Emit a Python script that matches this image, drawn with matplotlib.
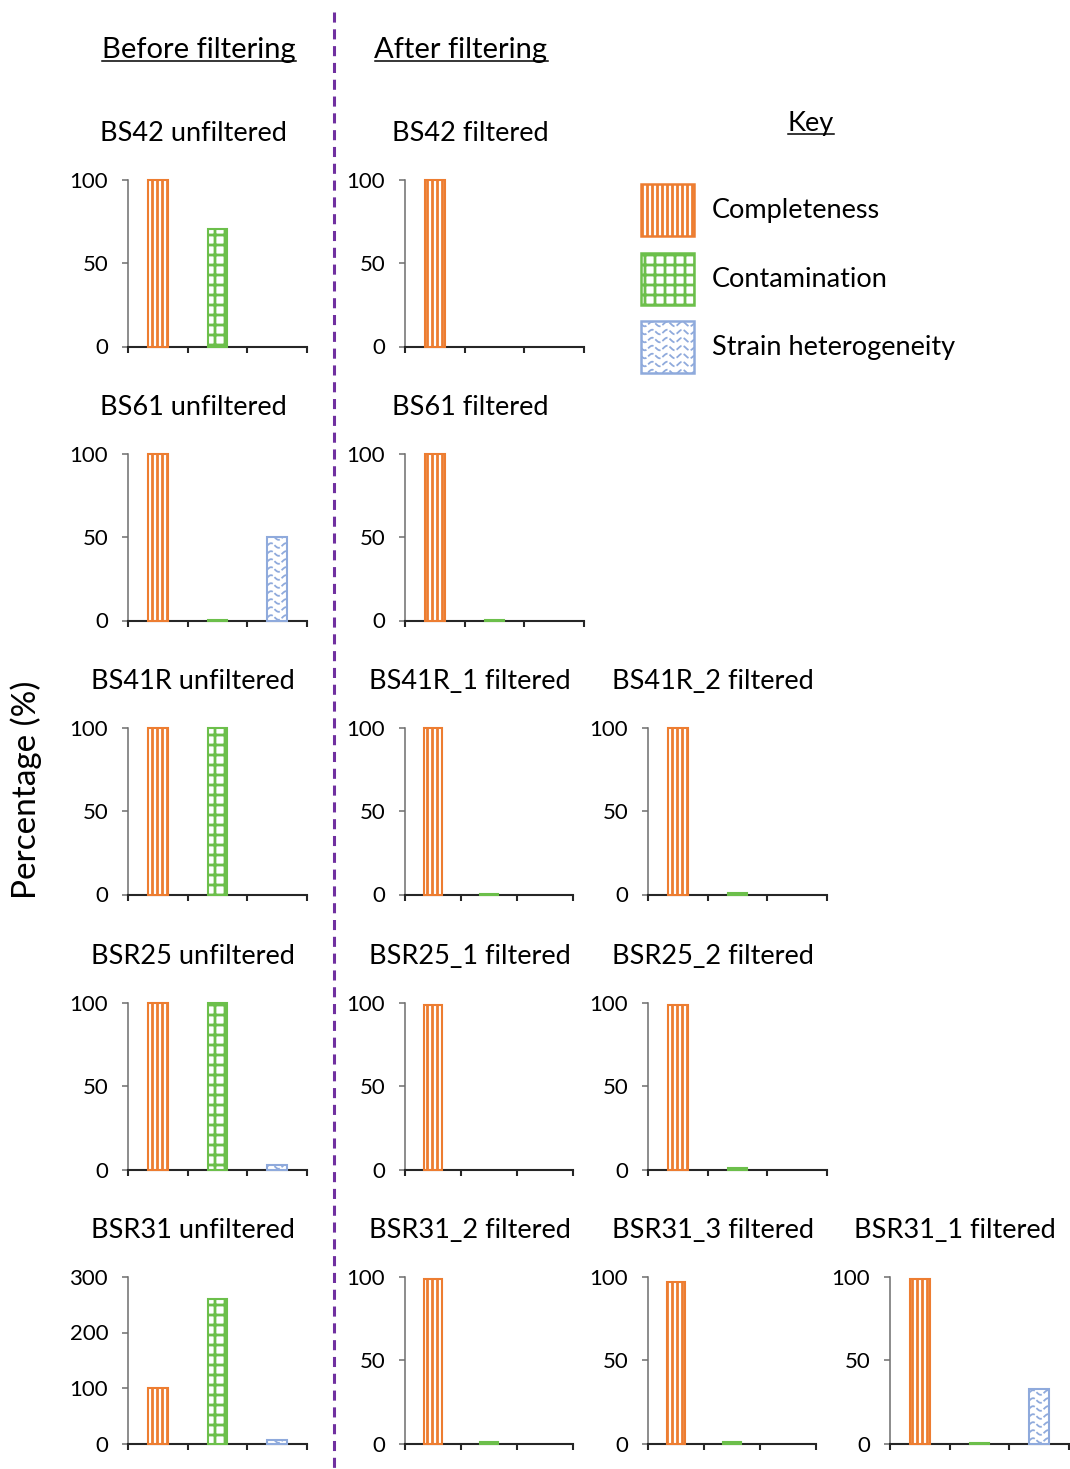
import numpy as np
import matplotlib
matplotlib.use("Agg")
import matplotlib.pyplot as plt
from matplotlib.patches import Rectangle

DPI = 120
S = 100 / DPI  # sizes below are tuned in points at 100 dpi

plt.rcParams['font.family'] = ['Lato', 'DejaVu Sans']
plt.rcParams['hatch.linewidth'] = 2.0 * S

# CheckM results per bin, before and after filtering
titles = ["BS42 unfiltered", "BS42 filtered",
          "BS61 unfiltered", "BS61 filtered",
          "BS41R unfiltered", "BS41R_1 filtered", "BS41R_2 filtered",
          "BSR25 unfiltered", "BSR25_1 filtered", "BSR25_2 filtered",
          "BSR31 unfiltered", "BSR31_2 filtered", "BSR31_3 filtered", "BSR31_1 filtered"]
completeness = [100, 100, 100, 100, 100, 100, 100, 100, 99, 99, 100, 99, 97, 99]
contamination = [70.5, 0, 0.6, 0.6, 100, 0.6, 1, 100, 0, 1, 260, 1.2, 1, 0.6]
strain_het = [0, 0, 50, 0, 0, 0, 0, 3, 0, 0, 7, 0, 0, 33]
y_max = [100, 100, 100, 100, 100, 100, 100, 100, 100, 100, 300, 100, 100, 100]

metrics = ["Completeness", "Contamination", "Strain heterogeneity"]

# grid slot of each panel: (row, column, visible x extent in categories)
slots = [(0, 0, 3), (0, 1, 3),
         (1, 0, 3), (1, 1, 3),
         (2, 0, 3), (2, 1, 2.82), (2, 2, 3),
         (3, 0, 3), (3, 1, 2.82), (3, 2, 3),
         (4, 0, 3), (4, 1, 2.82), (4, 2, 2.82), (4, 3, 3)]

ORANGE = '#ED7D31'
GREEN = '#6CBF4B'
BLUE = '#8FAADC'
PURPLE = '#7030A0'

W, H = 1070, 1469
col_left = [128, 405, 648, 890]
row_top = [180, 454, 728, 1003, 1277]
AX_W, AX_H = 179, 166.5

fig = plt.figure(figsize=(W / DPI, H / DPI), dpi=DPI)

# full-figure layer in pixel units for the divider, headings and key
ov = fig.add_axes([0, 0, 1, 1])
ov.set_xlim(0, W)
ov.set_ylim(H, 0)
ov.axis('off')


def wave_fill(ax, patch, px_x, px_y):
    # wavy dashed rows clipped to the patch
    x0, y0 = patch.get_x(), patch.get_y()
    w, h = patch.get_width(), patch.get_height()
    wp, hp = abs(w * px_x), abs(h * px_y)
    xs = np.linspace(0, wp, 60)
    for yy in np.arange(3, hp + 8, 8):
        ys = yy + 2.3 * np.sin(2 * np.pi * xs / 15)
        ln, = ax.plot(x0 + xs / px_x, y0 + ys / px_y, color=BLUE, lw=1.3 * S,
                      ls=(0, (3.5, 1.2)), solid_capstyle='butt', zorder=5)
        ln.set_clip_path(patch)


for i, title in enumerate(titles):
    row, col, xmax = slots[i]
    left, top = col_left[col], row_top[row]
    w = AX_W * xmax / 3
    ax = fig.add_axes([left / W, 1 - (top + AX_H) / H, w / W, AX_H / H])
    ax.set_xlim(0, xmax)
    ax.set_ylim(0, y_max[i])
    vals = [completeness[i], contamination[i], strain_het[i]]
    bars = ax.bar([0.5, 1.5, 2.5], vals, width=0.33, clip_on=False, zorder=3)
    styles = [(ORANGE, '||||'), (GREEN, '++'), (BLUE, None)]
    for b, v, (c, h) in zip(bars, vals, styles):
        b.set_facecolor('white')
        b.set_edgecolor(c)
        b.set_linewidth(1.5 * S)
        if h:
            b.set_hatch(h)
        if v == 0:
            b.set_visible(False)
    if strain_het[i] > 0:
        wave_fill(ax, bars[2], AX_W / 3, AX_H / y_max[i])

    ax.set_xticks([0, 1, 2, 3])
    ax.set_yticks(np.arange(0, y_max[i] + 1, 50 if y_max[i] == 100 else 100))
    for s in ['top', 'right']:
        ax.spines[s].set_visible(False)
    ax.spines['left'].set_color('#6e6e6e')
    ax.spines['left'].set_linewidth(1.1 * S)
    ax.spines['bottom'].set_color('#262626')
    ax.spines['bottom'].set_linewidth(1.5 * S)
    ax.tick_params(axis='y', direction='out', length=4.3 * S, width=1.1 * S,
                   color='#6e6e6e', pad=10 * S, labelsize=16 * S, labelcolor='black')
    ax.tick_params(axis='x', direction='out', length=4.5 * S, width=1.5 * S,
                   color='#262626', labelbottom=False)
    ax.patch.set_alpha(0)

    ov.text(left + 65, top - 39, title, ha='center', va='baseline', fontsize=19.5 * S)

# dashed divider between the two groups
ov.plot([334, 334], [12, H], color=PURPLE, lw=2.2 * S, ls=(0, (3.3, 2.2)))


def underlined(x, y, s, size):
    t = ov.text(x, y, s, ha='center', va='baseline', fontsize=size * S)
    fig.canvas.draw()
    bb = t.get_window_extent(fig.canvas.get_renderer())
    ov.plot([bb.x0, bb.x1], [y + 3, y + 3], color='black', lw=1.1 * S)


underlined(199, 58, "Before filtering", 21)
underlined(461, 58, "After filtering", 21)
underlined(811, 131, "Key", 19.5)

ov.text(26, 790, "Percentage (%)", rotation=90, ha='center', va='center', fontsize=24 * S)

# key swatches
key_y = [184, 253, 321]
for name, ky, (c, h) in zip(metrics, key_y, [(ORANGE, '||||'), (GREEN, '++'), (BLUE, None)]):
    r = Rectangle((641, ky), 53, 52, facecolor='white', edgecolor=c, lw=1.8 * S,
                  hatch=h)
    ov.add_patch(r)
    if h is None:
        wave_fill(ov, r, 1, 1)
    ov.text(712, ky + 26, name, ha='left', va='center', fontsize=19.5 * S)

fig.savefig('out.png', dpi=DPI)
